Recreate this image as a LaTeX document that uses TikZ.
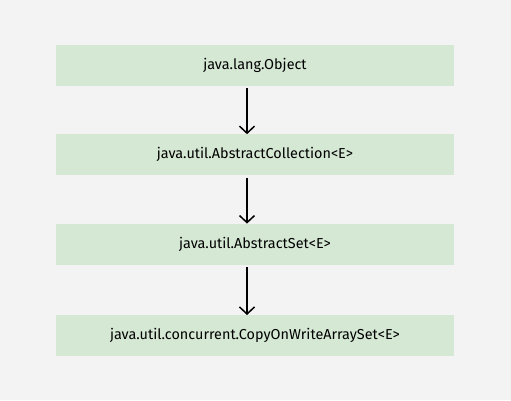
\documentclass[tikz,border=0pt]{standalone}
\usepackage{fontspec}
\setmainfont{Fira Sans}
\usetikzlibrary{positioning,arrows.meta}

\definecolor{bgcol}{HTML}{F3F3F3}
\definecolor{boxcol}{HTML}{D5E8D4}

\begin{document}
\begin{tikzpicture}[x=1pt,y=1pt,
    classbox/.style={fill=boxcol, minimum width=398pt, minimum height=41pt, inner sep=0pt, font=\fontsize{14.4}{17}\selectfont},
    inherit/.style={-{Straight Barb[length=7pt,width=15pt]}, line width=1.5pt}]
    \fill[bgcol] (0,0) rectangle (511,400);
    \useasboundingbox (0,0) rectangle (511,400);

    % Class hierarchy
    \node[classbox] (obj) at (255,334.5) {java.lang.Object};
    \node[classbox, below=48pt of obj] (coll) {java.util.AbstractCollection<E>};
    \node[classbox, below=48pt of coll] (aset) {java.util.AbstractSet<E>};
    \node[classbox, below=50pt of aset] (cow) {java.util.concurrent.CopyOnWriteArraySet<E>};

    % Arrows
    \draw[inherit] ([xshift=-8pt,yshift=-2pt]obj.south) -- ([xshift=-8pt]coll.north);
    \draw[inherit] ([xshift=-8pt,yshift=-2pt]coll.south) -- ([xshift=-8pt]aset.north);
    \draw[inherit] ([xshift=-8pt,yshift=-2pt]aset.south) -- ([xshift=-8pt]cow.north);
\end{tikzpicture}
\end{document}
